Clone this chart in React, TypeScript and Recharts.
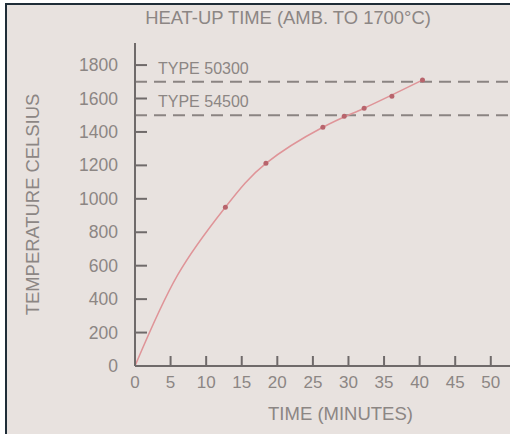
import React from 'react';
import { ComposedChart, Line, Scatter, XAxis, YAxis, ReferenceLine, Label } from 'recharts';

const curveTime = [0, 6, 12.7, 18.4, 26.4, 32.2, 40.4];
const curveTemp = [0, 545, 950, 1212, 1428, 1542, 1710];
const pointTime = [12.7, 18.4, 26.4, 29.4, 32.2, 36.1, 40.4];
const pointTemp = [950, 1212, 1428, 1494, 1542, 1614, 1710];
const xTicks = [0, 5, 10, 15, 20, 25, 30, 35, 40, 45, 50];
const yTicks = [0, 200, 400, 600, 800, 1000, 1200, 1400, 1600, 1800];
const typeLevels = [1700, 1500];
const typeNames = ['TYPE 50300', 'TYPE 54500'];
const title = 'HEAT-UP TIME (AMB. TO 1700°C)';
const xTitle = 'TIME (MINUTES)';
const yTitle = 'TEMPERATURE CELSIUS';

const curve = curveTime.map((t, i) => ({ t, T: curveTemp[i] }));
const points = pointTime.map((t, i) => ({ t, T: pointTemp[i] }));

const TEXT = '#8c8684';
const AXIS = '#6f6a6a';
const FONT = '"Liberation Sans", Arial, sans-serif';

const YTick = (props: any) => {
  const { x, y, payload } = props;
  return (
    <g>
      <line x1={x} x2={x + 12} y1={y} y2={y} stroke={AXIS} strokeWidth={2} />
      <text x={x - 17} y={y} dy={6} textAnchor="end" fill={TEXT} fontSize={17.5} fontFamily={FONT}>
        {payload.value}
      </text>
    </g>
  );
};

const XTick = (props: any) => {
  const { x, y, payload } = props;
  return (
    <g>
      <line x1={x} x2={x} y1={y} y2={y - 10} stroke={AXIS} strokeWidth={2} />
      <text x={x} y={y + 22} textAnchor="middle" fill={TEXT} fontSize={17} fontFamily={FONT}>
        {payload.value}
      </text>
    </g>
  );
};

const makeTypeLabel = (name: string) => (props: any) => {
  const vb = props.viewBox || {};
  return (
    <text x={vb.x + 23} y={vb.y - 8} fill={TEXT} fontSize={16} fontFamily={FONT}>
      {name}
    </text>
  );
};

const XLabel = (props: any) => {
  const vb = props.viewBox || {};
  return (
    <text x={vb.x + vb.width / 2 + 18} y={vb.y + 54} textAnchor="middle" fill={TEXT} fontSize={18.5} fontFamily={FONT}>
      {xTitle}
    </text>
  );
};

const YLabel = (props: any) => {
  const vb = props.viewBox || {};
  const cx = vb.x + 33;
  const cy = vb.y + vb.height / 2;
  return (
    <text x={cx} y={cy} dy={6} transform={`rotate(-90 ${cx} ${cy})`} textAnchor="middle" fill={TEXT} fontSize={18.4} fontFamily={FONT}>
      {yTitle}
    </text>
  );
};

export default function App() {
  return (
    <div style={{ position: 'absolute', left: 0, top: 0, width: 510, height: 434, background: '#ffffff', overflow: 'hidden' }}>
      <div
        style={{
          position: 'absolute',
          left: 5,
          top: 3,
          width: 505,
          height: 431,
          background: '#e8e2df',
          borderLeft: '2px solid #1f2d38',
          borderTop: '2px solid #1f2d38',
          boxSizing: 'border-box',
        }}
      />
      <div
        style={{
          position: 'absolute',
          left: 0,
          top: 8,
          width: 576,
          textAlign: 'center',
          color: TEXT,
          fontFamily: FONT,
          fontSize: 18.4,
          lineHeight: '20px',
          whiteSpace: 'nowrap',
        }}
      >
        {title}
      </div>
      <div style={{ position: 'absolute', left: 0, top: 0 }}>
        <ComposedChart width={510} height={434} margin={{ top: 43, right: 0, bottom: 0, left: 0 }}>
          <XAxis
            dataKey="t"
            type="number"
            domain={[0, 52.7]}
            ticks={xTicks}
            interval={0}
            height={68}
            tickSize={0}
            tickMargin={0}
            tickLine={false}
            tick={<XTick />}
            axisLine={{ stroke: AXIS, strokeWidth: 2 }}
            allowDataOverflow
          >
            <Label content={<XLabel />} />
          </XAxis>
          <YAxis
            dataKey="T"
            type="number"
            domain={[0, 1932]}
            ticks={yTicks}
            interval={0}
            width={135}
            tickSize={0}
            tickMargin={0}
            tickLine={false}
            tick={<YTick />}
            axisLine={{ stroke: AXIS, strokeWidth: 2 }}
            allowDataOverflow
          >
            <Label content={<YLabel />} />
          </YAxis>
          {typeLevels.map((lvl, i) => (
            <ReferenceLine
              key={lvl}
              y={lvl}
              stroke="#8a8482"
              strokeWidth={2}
              strokeDasharray="12 7"
              label={makeTypeLabel(typeNames[i])}
            />
          ))}
          <Line
            data={curve}
            dataKey="T"
            type="natural"
            stroke="#df9498"
            strokeWidth={1.5}
            dot={false}
            activeDot={false}
            isAnimationActive={false}
          />
          <Scatter data={points} dataKey="T" fill="#b8646c" shape={(p: any) => <circle cx={p.cx} cy={p.cy} r={2.5} fill="#b8646c" />} isAnimationActive={false} />
        </ComposedChart>
      </div>
    </div>
  );
}
